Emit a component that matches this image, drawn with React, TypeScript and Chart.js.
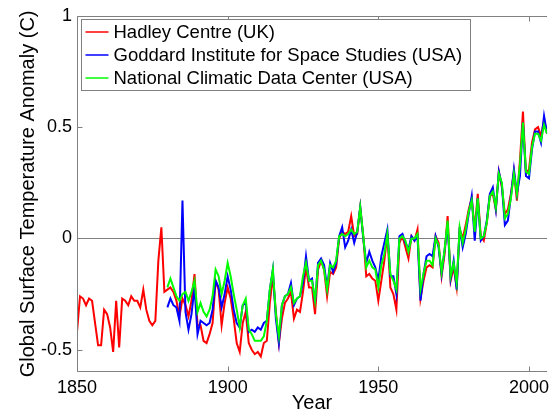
import React, { useEffect, useRef } from "react";
import { Chart, registerables } from "chart.js";

Chart.register(...registerables);

// ---- data (annual global surface temperature anomalies, °C) ----
const HADLEY_START = 1850;
const HADLEY = [
  -0.42, -0.26, -0.27, -0.30, -0.27, -0.28, -0.38, -0.48, -0.48, -0.32,
  -0.34, -0.40, -0.51, -0.28, -0.49, -0.27, -0.28, -0.30, -0.26, -0.28,
  -0.28, -0.31, -0.23, -0.32, -0.37, -0.39, -0.37, -0.10, 0.05, -0.24,
  -0.23, -0.22, -0.24, -0.28, -0.35, -0.27, -0.30, -0.35, -0.28, -0.16,
  -0.39, -0.39, -0.46, -0.47, -0.43, -0.38, -0.19, -0.23, -0.39, -0.29,
  -0.22, -0.27, -0.36, -0.47, -0.51, -0.38, -0.33, -0.47, -0.50, -0.52,
  -0.51, -0.53, -0.47, -0.46, -0.29, -0.17, -0.33, -0.47, -0.36, -0.29,
  -0.27, -0.24, -0.36, -0.32, -0.33, -0.24, -0.13, -0.22, -0.22, -0.34,
  -0.14, -0.10, -0.14, -0.26, -0.15, -0.16, -0.13, 0.00, 0.03, 0.02,
  0.03, 0.10, 0.01, 0.02, 0.14, 0.01, -0.17, -0.16, -0.18, -0.19,
  -0.28, -0.19, -0.10, 0.02, -0.22, -0.25, -0.32, -0.02, 0.01, -0.04,
  -0.09, 0.01, -0.01, 0.04, -0.27, -0.19, -0.13, -0.12, -0.13, 0.01,
  -0.02, -0.17, -0.07, 0.10, -0.19, -0.13, -0.22, 0.04, 0.00, 0.06,
  0.13, 0.18, 0.04, 0.20, 0.01, -0.01, 0.07, 0.19, 0.20, 0.13,
  0.30, 0.23, 0.11, 0.13, 0.20, 0.30, 0.17, 0.35, 0.57, 0.29,
  0.31, 0.43, 0.49, 0.50, 0.46, 0.53, 0.47,
];

const US_START = 1880;
const GISS = [
  -0.31, -0.27, -0.30, -0.31, -0.37, 0.17, -0.33, -0.41, -0.34, -0.22,
  -0.43, -0.37, -0.38, -0.39, -0.38, -0.32, -0.19, -0.22, -0.31, -0.25,
  -0.17, -0.23, -0.32, -0.38, -0.40, -0.30, -0.29, -0.42, -0.41, -0.42,
  -0.40, -0.41, -0.38, -0.37, -0.23, -0.14, -0.36, -0.47, -0.30, -0.26,
  -0.25, -0.20, -0.30, -0.27, -0.26, -0.20, -0.08, -0.19, -0.18, -0.29,
  -0.11, -0.09, -0.12, -0.22, -0.11, -0.15, -0.11, 0.01, 0.05, -0.04,
  -0.01, 0.04, -0.02, 0.03, 0.14, 0.00, -0.11, -0.06, -0.10, -0.13,
  -0.19, -0.08, -0.02, 0.04, -0.17, -0.17, -0.25, 0.01, 0.02, -0.02,
  -0.05, 0.01, -0.01, 0.01, -0.28, -0.16, -0.08, -0.07, -0.08, 0.01,
  -0.04, -0.16, -0.05, 0.06, -0.18, -0.10, -0.23, 0.05, -0.04, 0.02,
  0.11, 0.19, -0.01, 0.18, -0.01, 0.01, 0.08, 0.20, 0.23, 0.13,
  0.30, 0.24, 0.06, 0.08, 0.19, 0.31, 0.20, 0.28, 0.52, 0.28,
  0.27, 0.40, 0.48, 0.48, 0.43, 0.55, 0.47,
];

const NCDC = [
  -0.22, -0.18, -0.22, -0.26, -0.28, -0.25, -0.24, -0.28, -0.24, -0.19,
  -0.33, -0.29, -0.33, -0.35, -0.32, -0.26, -0.14, -0.17, -0.25, -0.19,
  -0.11, -0.17, -0.25, -0.32, -0.40, -0.30, -0.27, -0.41, -0.43, -0.46,
  -0.46, -0.46, -0.44, -0.37, -0.23, -0.14, -0.34, -0.44, -0.30, -0.26,
  -0.25, -0.22, -0.29, -0.27, -0.26, -0.17, -0.11, -0.19, -0.19, -0.28,
  -0.12, -0.10, -0.14, -0.23, -0.12, -0.13, -0.10, 0.01, 0.02, 0.01,
  0.02, 0.04, 0.02, 0.03, 0.14, 0.01, -0.13, -0.10, -0.13, -0.14,
  -0.22, -0.12, -0.07, 0.02, -0.16, -0.19, -0.23, 0.00, 0.01, -0.01,
  -0.06, 0.00, 0.00, 0.02, -0.23, -0.16, -0.10, -0.10, -0.12, 0.00,
  -0.03, -0.15, -0.05, 0.08, -0.17, -0.11, -0.20, 0.05, -0.02, 0.04,
  0.12, 0.17, 0.03, 0.18, 0.00, 0.01, 0.07, 0.19, 0.21, 0.14,
  0.29, 0.25, 0.09, 0.11, 0.18, 0.29, 0.20, 0.33, 0.52, 0.30,
  0.29, 0.41, 0.47, 0.47, 0.44, 0.51, 0.47,
];

const SERIES_LABELS = [
  "Hadley Centre (UK)",
  "Goddard Institute for Space Studies (USA)",
  "National Climatic Data Center (USA)",
];
const SERIES_COLORS = ["#ff0000", "#0000ff", "#00ff00"];

const X_TICKS = [1850, 1900, 1950, 2000];
const Y_TICKS = [-0.5, 0, 0.5, 1];
const X_MIN = 1850;
const X_MAX = 2006;
const Y_MIN = -0.6;
const Y_MAX = 1;

const X_TITLE = "Year";
const Y_TITLE = "Global Surface Temperature Anomaly (C)";

const FONT_FAMILY = "'Liberation Sans', Arial, Helvetica, sans-serif";
const AXIS_COLOR = "#808080";

function toPoints(start: number, values: number[]) {
  return values.map((v, i) => ({ x: start + i, y: v }));
}

const framePlugin = {
  id: "matlabFrame",
  beforeDatasetsDraw(chart: any) {
    const { ctx, chartArea: a, scales } = chart;
    const y0 = Math.round(scales.y.getPixelForValue(0)) + 0.5;
    ctx.save();
    ctx.strokeStyle = AXIS_COLOR;
    ctx.lineWidth = 1;
    ctx.beginPath();
    ctx.moveTo(a.left, y0);
    ctx.lineTo(a.right, y0);
    ctx.stroke();
    ctx.restore();
  },
  afterDraw(chart: any) {
    const { ctx, chartArea: a, scales } = chart;
    const L = Math.round(a.left) + 0.5;
    const T = Math.round(a.top) + 0.5;
    const B = Math.round(a.bottom) - 0.5;
    const R = a.right;
    ctx.save();
    ctx.strokeStyle = AXIS_COLOR;
    ctx.lineWidth = 1;
    ctx.beginPath();
    ctx.moveTo(L, T);
    ctx.lineTo(R, T);
    ctx.moveTo(L, T);
    ctx.lineTo(L, B);
    ctx.moveTo(L, B);
    ctx.lineTo(R, B);
    for (const t of X_TICKS) {
      const px = Math.round(scales.x.getPixelForValue(t)) + 0.5;
      ctx.moveTo(px, B);
      ctx.lineTo(px, B - 5);
      ctx.moveTo(px, T);
      ctx.lineTo(px, T + 5);
    }
    for (const t of Y_TICKS) {
      const py = Math.round(scales.y.getPixelForValue(t)) + 0.5;
      ctx.moveTo(L, py);
      ctx.lineTo(L + 5, py);
    }
    ctx.stroke();

    // legend (inside plot, top-left, boxed)
    ctx.font = `18.5px ${FONT_FAMILY}`;
    const textW = Math.max(...SERIES_LABELS.map((s) => ctx.measureText(s).width));
    const bx = Math.round(a.left) + 4.5;
    const by = Math.round(a.top) + 3.5;
    const bw = Math.round(32 + textW + 8);
    const bh = 71;
    ctx.fillStyle = "#ffffff";
    ctx.fillRect(bx, by, bw, bh);
    ctx.strokeStyle = AXIS_COLOR;
    ctx.strokeRect(bx, by, bw, bh);
    const rowBase = [38, 61, 84];
    const rowLine = [32, 55, 78];
    SERIES_LABELS.forEach((label, i) => {
      ctx.strokeStyle = SERIES_COLORS[i];
      ctx.lineWidth = 1.5;
      ctx.beginPath();
      ctx.moveTo(bx + 4, rowLine[i]);
      ctx.lineTo(bx + 27, rowLine[i]);
      ctx.stroke();
      ctx.fillStyle = "#000000";
      ctx.textBaseline = "alphabetic";
      ctx.textAlign = "left";
      ctx.fillText(label, bx + 32, rowBase[i]);
    });
    ctx.restore();
  },
};

export default function App() {
  const canvasRef = useRef<HTMLCanvasElement | null>(null);

  useEffect(() => {
    if (!canvasRef.current) return;
    Chart.defaults.font.family = FONT_FAMILY;
    Chart.defaults.font.size = 18;
    Chart.defaults.color = "#000000";

    const seriesData = [
      toPoints(HADLEY_START, HADLEY),
      toPoints(US_START, GISS),
      toPoints(US_START, NCDC),
    ];

    const chart = new Chart(canvasRef.current, {
      type: "line",
      data: {
        datasets: seriesData.map((d, i) => ({
          label: SERIES_LABELS[i],
          data: d,
          borderColor: SERIES_COLORS[i],
          backgroundColor: SERIES_COLORS[i],
          borderWidth: 2,
          pointRadius: 0,
          tension: 0,
          fill: false,
          order: 2 - i,
        })),
      },
      options: {
        animation: false,
        responsive: true,
        maintainAspectRatio: false,
        events: [],
        layout: {
          autoPadding: false,
          padding: { top: 15, right: 0, bottom: 0, left: 0 },
        } as any,
        plugins: {
          legend: { display: false },
          tooltip: { enabled: false },
        },
        scales: {
          x: {
            type: "linear",
            min: X_MIN,
            max: X_MAX,
            grid: { display: false, drawTicks: false },
            border: { display: false },
            afterBuildTicks: (scale: any) => {
              scale.ticks = X_TICKS.map((v) => ({ value: v }));
            },
            afterFit: (scale: any) => {
              scale.height = 41;
            },
            ticks: {
              padding: 5,
              maxRotation: 0,
              autoSkip: false,
              callback: (v: any) => String(v),
              font: { size: 18 },
            },
            title: {
              display: true,
              text: X_TITLE,
              font: { size: 20 },
              padding: { top: 0, bottom: -2 },
            },
          },
          y: {
            type: "linear",
            min: Y_MIN,
            max: Y_MAX,
            grid: { display: false, drawTicks: false },
            border: { display: false },
            afterBuildTicks: (scale: any) => {
              scale.ticks = Y_TICKS.map((v) => ({ value: v }));
            },
            afterFit: (scale: any) => {
              scale.width = 77;
            },
            ticks: {
              padding: 5,
              autoSkip: false,
              callback: (v: any) => String(v),
              font: { size: 18 },
            },
            title: {
              display: true,
              text: Y_TITLE,
              font: { size: 20 },
              padding: { top: 16, bottom: 0 },
            },
          },
        },
      },
      plugins: [framePlugin],
    });

    return () => chart.destroy();
  }, []);

  return (
    <div
      style={{
        position: "fixed",
        left: 0,
        top: 0,
        width: 554,
        height: 413,
        background: "#ffffff",
      }}
    >
      <canvas ref={canvasRef} />
    </div>
  );
}
